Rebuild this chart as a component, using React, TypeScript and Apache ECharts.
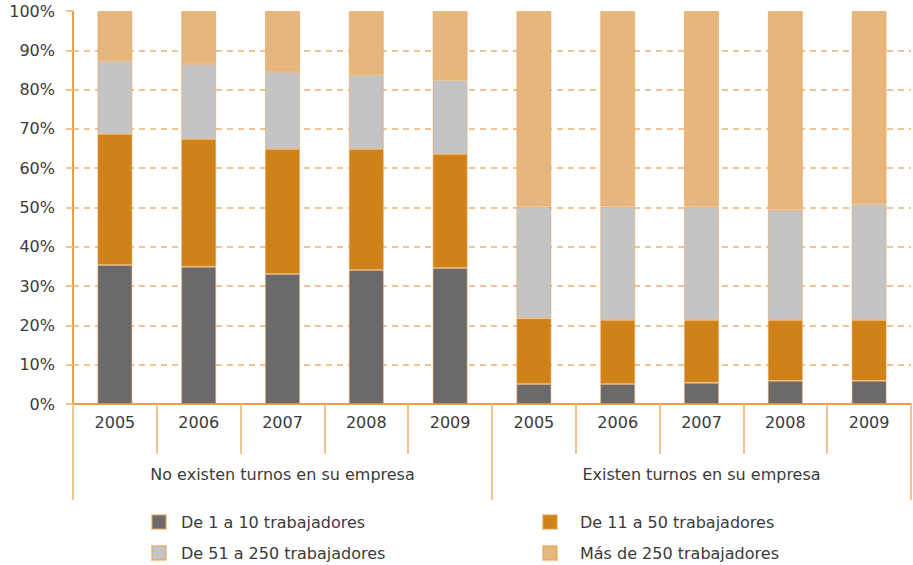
import React, { useEffect, useRef } from "react";
import * as echarts from "echarts";

const years = ["2005", "2006", "2007", "2008", "2009", "2005", "2006", "2007", "2008", "2009"];
const groups = ["No existen turnos en su empresa", "Existen turnos en su empresa"];
const seriesNames = [
  "De 1 a 10 trabajadores",
  "De 11 a 50 trabajadores",
  "De 51 a 250 trabajadores",
  "Más de 250 trabajadores",
];
const de1a10 = [35.4, 34.9, 33.1, 34.1, 34.6, 5.1, 5.1, 5.4, 5.9, 5.9];
const de11a50 = [33.3, 32.5, 31.8, 30.8, 29.0, 16.7, 16.3, 16.0, 15.5, 15.5];
const de51a250 = [18.6, 19.1, 19.6, 18.8, 18.8, 28.4, 28.8, 28.8, 28.0, 29.4];
const mas250 = [12.7, 13.5, 15.5, 16.3, 17.6, 49.8, 49.8, 49.8, 50.6, 49.2];
const colors = ["#6a6a6d", "#cf8218", "#c3c4c6", "#e6b67c"];

const FONT = "DejaVu Sans";
const TEXT = "#3a3a3a";
const LIGHT = "#f2c493";
const AXIS = "#e6a04c";

const legendPos = [
  { left: 151, top: 514, pad: 10 },
  { left: 542, top: 514, pad: 18 },
  { left: 151, top: 545, pad: 10 },
  { left: 542, top: 545, pad: 18 },
];

export default function App() {
  const ref = useRef<HTMLDivElement>(null);
  useEffect(() => {
    if (!ref.current) return;
    const chart = echarts.init(ref.current, undefined, { renderer: "svg" });
    const values = [de1a10, de11a50, de51a250, mas250];
    const gridColors = [LIGHT, LIGHT, LIGHT, LIGHT, LIGHT, LIGHT, LIGHT, LIGHT, LIGHT, LIGHT, "transparent"];
    chart.setOption({
      animation: false,
      grid: { left: 73, right: 2, top: 11, bottom: 161 },
      xAxis: [
        {
          type: "category",
          data: years,
          position: "bottom",
          axisLine: { show: true, lineStyle: { color: AXIS, width: 2 } },
          axisTick: { show: true, interval: 0, length: 50, lineStyle: { color: LIGHT, width: 2 } },
          axisLabel: { interval: 0, margin: 10, fontFamily: FONT, fontSize: 16, color: TEXT },
        },
        {
          type: "category",
          data: groups,
          position: "bottom",
          axisLine: { show: false },
          axisTick: { show: true, interval: 0, length: 96, lineStyle: { color: LIGHT, width: 2 } },
          axisLabel: { interval: 0, margin: 62, fontFamily: FONT, fontSize: 16, color: TEXT },
        },
      ],
      yAxis: {
        type: "value",
        min: 0,
        max: 100,
        interval: 10,
        axisLine: { show: true, lineStyle: { color: AXIS, width: 2 } },
        axisTick: { show: true, length: 7, lineStyle: { color: LIGHT, width: 2 } },
        axisLabel: { margin: 18, fontFamily: FONT, fontSize: 16, color: TEXT, formatter: "{value}%" },
        splitLine: { show: true, lineStyle: { color: gridColors, width: 2, type: [6, 5] } },
      },
      legend: seriesNames.map((name, i) => ({
        data: [name],
        left: legendPos[i].left,
        top: legendPos[i].top,
        padding: 0,
        itemWidth: 14,
        itemHeight: 14,
        icon: "rect",
        textStyle: { fontFamily: FONT, fontSize: 16, color: TEXT, padding: [0, 0, 0, legendPos[i].pad] },
      })),
      series: seriesNames.map((name, i) => ({
        name,
        type: "bar",
        stack: "total",
        xAxisIndex: 0,
        barWidth: 35,
        data: values[i],
        itemStyle: { color: colors[i], borderColor: "rgba(232,160,80,0.55)", borderWidth: 1 },
      })),
    });
    return () => chart.dispose();
  }, []);
  return (
    <div
      ref={ref}
      style={{ position: "fixed", left: 0, top: 0, width: 913, height: 565, background: "#fff" }}
    />
  );
}
